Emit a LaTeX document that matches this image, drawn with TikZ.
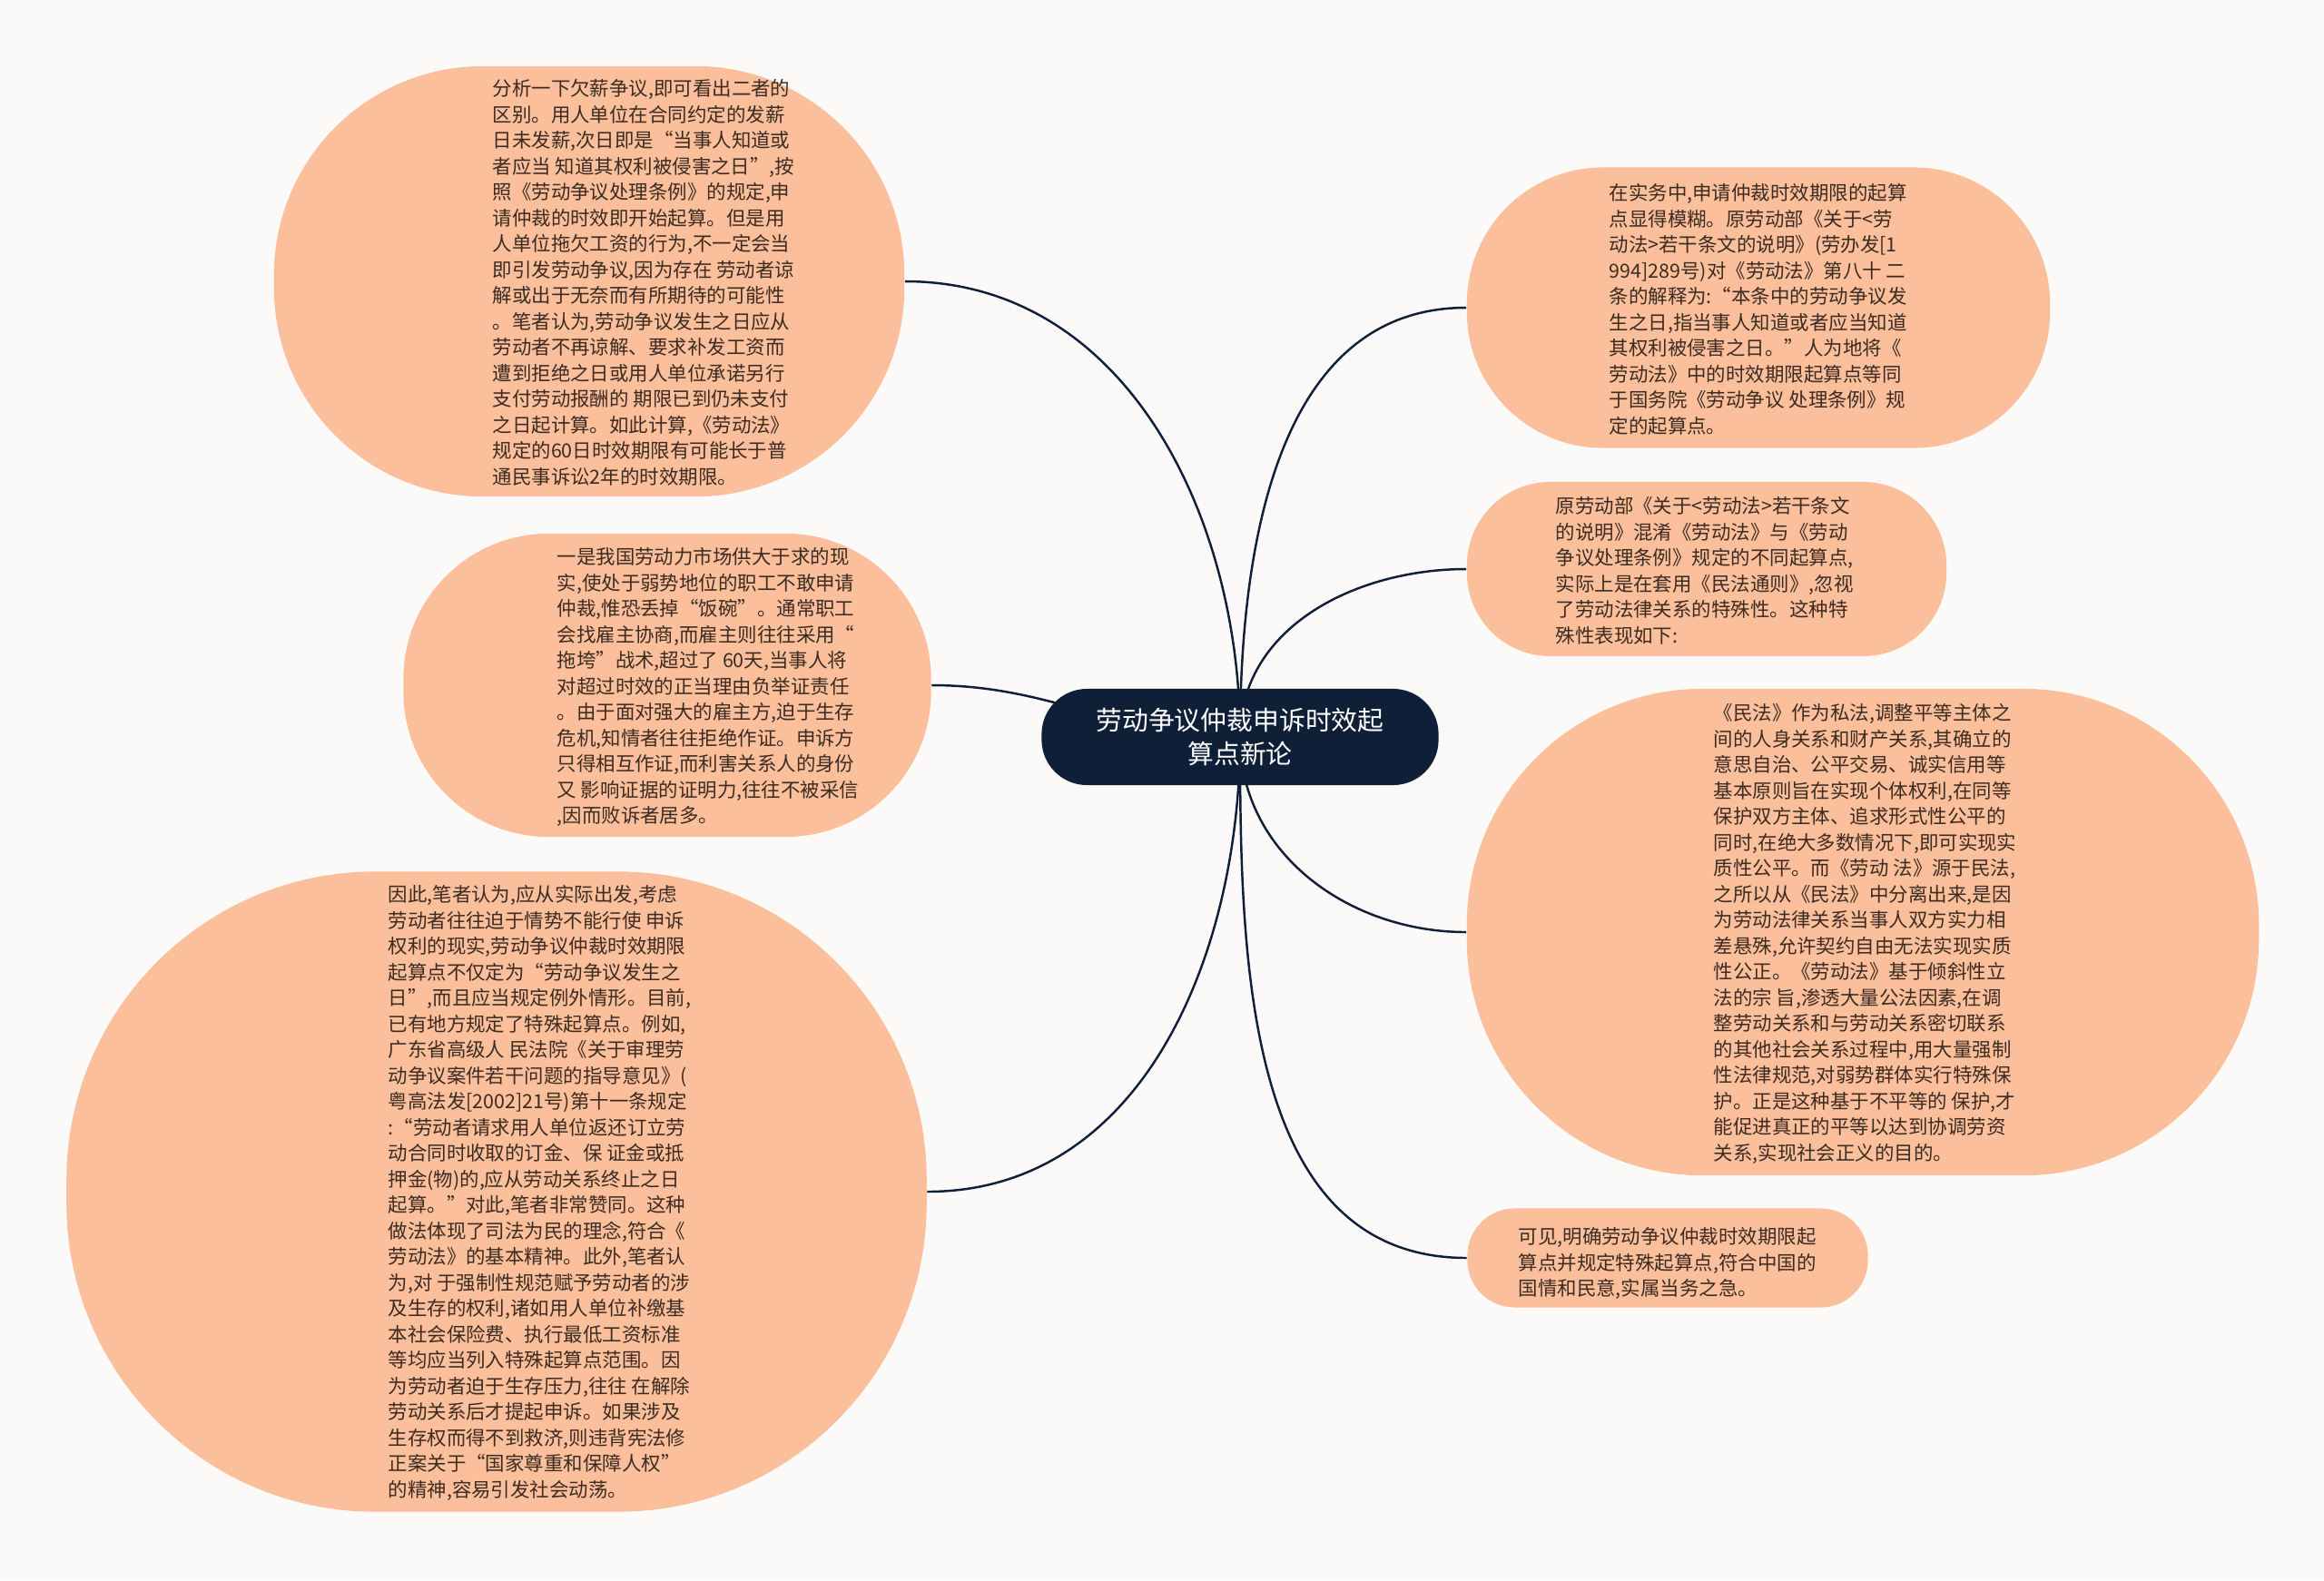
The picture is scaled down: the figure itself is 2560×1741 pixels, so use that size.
\documentclass[tikz,border=0pt]{standalone}
\usepackage{fontspec}
\setmainfont{Noto Sans CJK SC}
\usetikzlibrary{backgrounds}

\definecolor{paper}{HTML}{FCFAF8}
\definecolor{peach}{HTML}{FBBF9B}
\definecolor{navy}{HTML}{0F1F38}
\definecolor{ink}{HTML}{3B2B22}

\tikzset{
  blob/.style={fill=peach, draw=none, rectangle},
  txt/.style={anchor=north west, inner sep=0pt, align=left, text=ink, font=\fontsize{6.1}{8.1}\selectfont},
  link/.style={draw=navy, line width=0.7pt},
  rootbox/.style={fill=navy, rounded corners=0.5cm, minimum width=4.37cm, minimum height=1.06cm, inner sep=0pt, text=white, align=center, font=\fontsize{8.2}{10.5}\selectfont}
}

\begin{document}
\begin{tikzpicture}[x=0.01cm, y=-0.01cm]

% Root
\node[rootbox] (root) at (1366,812) {劳动争议仲裁申诉时效起\\算点新论};

% Left blobs
\node[blob, minimum width=6.94cm, minimum height=4.74cm, rounded corners=2.3cm] (fenxi) at (649,310) {};
\node[blob, minimum width=5.81cm, minimum height=3.34cm, rounded corners=1.6cm] (yishi) at (735,755) {};
\node[blob, minimum width=9.47cm, minimum height=7.05cm, rounded corners=3.4cm] (yinci) at (547,1313) {};

% Right blobs
\node[blob, minimum width=6.42cm, minimum height=3.09cm, rounded corners=1.5cm] (shiwu) at (1937,339) {};
\node[blob, minimum width=5.28cm, minimum height=1.92cm, rounded corners=0.92cm] (yuan) at (1880,627) {};
\node[blob, minimum width=8.72cm, minimum height=5.36cm, rounded corners=2.6cm] (minfa) at (2052,1027) {};
\node[blob, minimum width=4.41cm, minimum height=1.09cm, rounded corners=0.52cm] (kejian) at (1837,1386) {};

% Texts
\node[txt] (fenxi-t) at (542,87) {分析一下欠薪争议,即可看出二者的\\
区别。用人单位在合同约定的发薪\\
日未发薪,次日即是“当事人知道或\\
者应当 知道其权利被侵害之日”,按\\
照《劳动争议处理条例》的规定,申\\
请仲裁的时效即开始起算。但是用\\
人单位拖欠工资的行为,不一定会当\\
即引发劳动争议,因为存在 劳动者谅\\
解或出于无奈而有所期待的可能性\\
。笔者认为,劳动争议发生之日应从\\
劳动者不再谅解、要求补发工资而\\
遭到拒绝之日或用人单位承诺另行\\
支付劳动报酬的 期限已到仍未支付\\
之日起计算。如此计算,《劳动法》\\
规定的60日时效期限有可能长于普\\
通民事诉讼2年的时效期限。};

\node[txt] (yishi-t) at (613,603) {一是我国劳动力市场供大于求的现\\
实,使处于弱势地位的职工不敢申请\\
仲裁,惟恐丢掉“饭碗”。通常职工\\
会找雇主协商,而雇主则往往采用“\\
拖垮”战术,超过了 60天,当事人将\\
对超过时效的正当理由负举证责任\\
。由于面对强大的雇主方,迫于生存\\
危机,知情者往往拒绝作证。申诉方\\
只得相互作证,而利害关系人的身份\\
又 影响证据的证明力,往往不被采信\\
,因而败诉者居多。};

\node[txt] (yinci-t) at (427,975) {因此,笔者认为,应从实际出发,考虑\\
劳动者往往迫于情势不能行使 申诉\\
权利的现实,劳动争议仲裁时效期限\\
起算点不仅定为“劳动争议发生之\\
日”,而且应当规定例外情形。目前,\\
已有地方规定了特殊起算点。例如,\\
广东省高级人 民法院《关于审理劳\\
动争议案件若干问题的指导意见》(\\
粤高法发[2002]21号)第十一条规定\\
:“劳动者请求用人单位返还订立劳\\
动合同时收取的订金、保 证金或抵\\
押金(物)的,应从劳动关系终止之日\\
起算。”对此,笔者非常赞同。这种\\
做法体现了司法为民的理念,符合《\\
劳动法》的基本精神。此外,笔者认\\
为,对 于强制性规范赋予劳动者的涉\\
及生存的权利,诸如用人单位补缴基\\
本社会保险费、执行最低工资标准\\
等均应当列入特殊起算点范围。因\\
为劳动者迫于生存压力,往往 在解除\\
劳动关系后才提起申诉。如果涉及\\
生存权而得不到救济,则违背宪法修\\
正案关于“国家尊重和保障人权”\\
的精神,容易引发社会动荡。};

\node[txt] (shiwu-t) at (1772,202) {在实务中,申请仲裁时效期限的起算\\
点显得模糊。原劳动部《关于<劳\\
动法>若干条文的说明》(劳办发[1\\
994]289号)对《劳动法》第八十 二\\
条的解释为:“本条中的劳动争议发\\
生之日,指当事人知道或者应当知道\\
其权利被侵害之日。”人为地将《\\
劳动法》中的时效期限起算点等同\\
于国务院《劳动争议 处理条例》规\\
定的起算点。};

\node[txt] (yuan-t) at (1713,547) {原劳动部《关于<劳动法>若干条文\\
的说明》混淆《劳动法》与《劳动\\
争议处理条例》规定的不同起算点,\\
实际上是在套用《民法通则》,忽视\\
了劳动法律关系的特殊性。这种特\\
殊性表现如下:};

\node[txt] (minfa-t) at (1887,775) {《民法》作为私法,调整平等主体之\\
间的人身关系和财产关系,其确立的\\
意思自治、公平交易、诚实信用等\\
基本原则旨在实现个体权利,在同等\\
保护双方主体、追求形式性公平的\\
同时,在绝大多数情况下,即可实现实\\
质性公平。而《劳动 法》源于民法,\\
之所以从《民法》中分离出来,是因\\
为劳动法律关系当事人双方实力相\\
差悬殊,允许契约自由无法实现实质\\
性公正。《劳动法》基于倾斜性立\\
法的宗 旨,渗透大量公法因素,在调\\
整劳动关系和与劳动关系密切联系\\
的其他社会关系过程中,用大量强制\\
性法律规范,对弱势群体实行特殊保\\
护。正是这种基于不平等的 保护,才\\
能促进真正的平等以达到协调劳资\\
关系,实现社会正义的目的。};

\node[txt] (kejian-t) at (1672,1352) {可见,明确劳动争议仲裁时效期限起\\
算点并规定特殊起算点,符合中国的\\
国情和民意,实属当务之急。};

% Paper and links
\begin{pgfonlayer}{background}
\fill[paper] (0,0) rectangle (2560,1741);
\draw[link] (root.center) to[out=90, in=0] (fenxi.east);
\draw[link] (root.center) to[out=180, in=0] (yishi.east);
\draw[link] (root.center) to[out=-90, in=0] (yinci.east);
\draw[link] (root.center) to[out=90, in=180] (shiwu.west);
\draw[link] (root.center) to[out=90, in=180] (yuan.west);
\draw[link] (root.center) to[out=-90, in=180] (minfa.west);
\draw[link] (root.center) to[out=-90, in=180] (kejian.west);
\end{pgfonlayer}
\end{tikzpicture}
\end{document}
